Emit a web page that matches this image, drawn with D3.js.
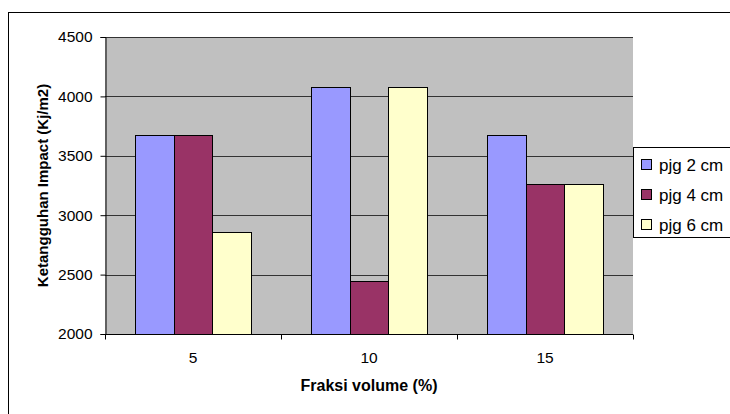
<!DOCTYPE html>
<html>
<head>
<meta charset="utf-8">
<script src="https://cdn.jsdelivr.net/npm/d3@7"></script>
<style>
  html, body { margin: 0; padding: 0; background: #fff; }
  svg { display: block; font-family: "Liberation Sans", Arial, sans-serif; }
</style>
</head>
<body>
<svg id="chart" width="730" height="414"></svg>
<script>
const categories = ["5", "10", "15"];
const seriesNames = ["pjg 2 cm", "pjg 4 cm", "pjg 6 cm"];
const pjg2 = [3673, 4082, 3673];
const pjg4 = [3673, 2449, 3265];
const pjg6 = [2857, 4082, 3265];
const yTicks = [2000, 2500, 3000, 3500, 4000, 4500];
const colors = ["#9999FF", "#993366", "#FFFFCC"];

(function () {
const FONT = "'Liberation Sans', Arial, sans-serif";
const series = [pjg2, pjg4, pjg6];
const svg = d3.select("#chart");

// outer chart frame (clipped at right/bottom like the reference)
svg.append("rect").attr("x", 8.5).attr("y", 12.5).attr("width", 800).attr("height", 500)
  .attr("fill", "#fff").attr("stroke", "#000").attr("stroke-width", 1);

const pL = 105, pR = 633, pT = 37, pB = 334;

const x = d3.scaleBand().domain(categories).range([pL, pR]).paddingInner(0).paddingOuter(0);
const xs = d3.scaleBand().domain(d3.range(series.length)).range([0, x.bandwidth()]).paddingOuter(0.76).paddingInner(0);
const y = d3.scaleLinear().domain([2000, 4500]).range([pB, pT]);

// plot area
svg.append("rect").attr("x", pL).attr("y", pT).attr("width", pR - pL).attr("height", pB - pT)
  .attr("fill", "#C0C0C0");

// gridlines
svg.append("g").selectAll("line").data(yTicks.filter(d => d > 2000)).join("line")
  .attr("x1", pL).attr("x2", pR)
  .attr("y1", d => Math.round(y(d)) + 0.5).attr("y2", d => Math.round(y(d)) + 0.5)
  .attr("stroke", "#333").attr("stroke-width", 1);

// bars
const groups = svg.append("g").selectAll("g").data(categories).join("g")
  .attr("transform", d => `translate(${x(d)},0)`);
groups.selectAll("rect").data((c, ci) => series.map((s, si) => ({ si, v: s[ci] }))).join("rect")
  .attr("x", d => Math.round(xs(d.si)) + 0.5)
  .attr("width", d => Math.round(xs(d.si) + xs.bandwidth()) - Math.round(xs(d.si)))
  .attr("y", d => Math.round(y(d.v)) + 0.5)
  .attr("height", d => Math.round(y(2000)) - Math.round(y(d.v)))
  .attr("fill", d => colors[d.si])
  .attr("stroke", "#000").attr("stroke-width", 1);

// y axis
const yAxis = d3.axisLeft(y).tickValues(yTicks).tickSize(5).tickPadding(8).tickFormat(d3.format("d"));
const gy = svg.append("g").attr("transform", `translate(${pL + 0.5},0)`).call(yAxis);
gy.select(".domain").attr("stroke", "#000");
gy.selectAll(".tick line").attr("stroke", "#000");
gy.selectAll("text").attr("font-size", 15.5).attr("fill", "#000").attr("font-family", FONT);

// x axis with ticks at category boundaries
const gx = svg.append("g").attr("transform", `translate(0,${pB + 0.5})`);
gx.append("line").attr("x1", pL).attr("x2", pR).attr("stroke", "#000");
const bounds = categories.map(c => x(c)).concat([pR]);
gx.selectAll("line.t").data(bounds).join("line").attr("class", "t")
  .attr("x1", d => Math.round(d) + 0.5).attr("x2", d => Math.round(d) + 0.5)
  .attr("y1", 0).attr("y2", 5).attr("stroke", "#000");
gx.selectAll("text").data(categories).join("text")
  .attr("x", d => x(d) + x.bandwidth() / 2).attr("y", 28.5)
  .attr("text-anchor", "middle").attr("font-size", 15.5).attr("fill", "#000").text(d => d);

// axis titles
svg.append("text").attr("x", 369).attr("y", 391).attr("text-anchor", "middle")
  .attr("font-size", 16).attr("font-weight", "bold").text("Fraksi volume (%)");
svg.append("text").attr("transform", `translate(48,${(pT + pB) / 2}) rotate(-90)`)
  .attr("text-anchor", "middle").attr("font-size", 15).attr("font-weight", "bold")
  .text("Ketangguhan Impact (Kj/m2)");

// legend
const lg = svg.append("g");
lg.append("rect").attr("x", 633.5).attr("y", 147.5).attr("width", 200).attr("height", 90)
  .attr("fill", "#fff").attr("stroke", "#000");
const items = lg.selectAll("g").data(seriesNames).join("g")
  .attr("transform", (d, i) => `translate(0,${165 + i * 30})`);
items.append("rect").attr("x", 641.5).attr("y", -5.5).attr("width", 10).attr("height", 10)
  .attr("fill", (d, i) => colors[i]).attr("stroke", "#000");
items.append("text").attr("x", 659).attr("y", 5.5).attr("font-size", 17).attr("fill", "#000").text(d => d);
})();
</script>
</body>
</html>
